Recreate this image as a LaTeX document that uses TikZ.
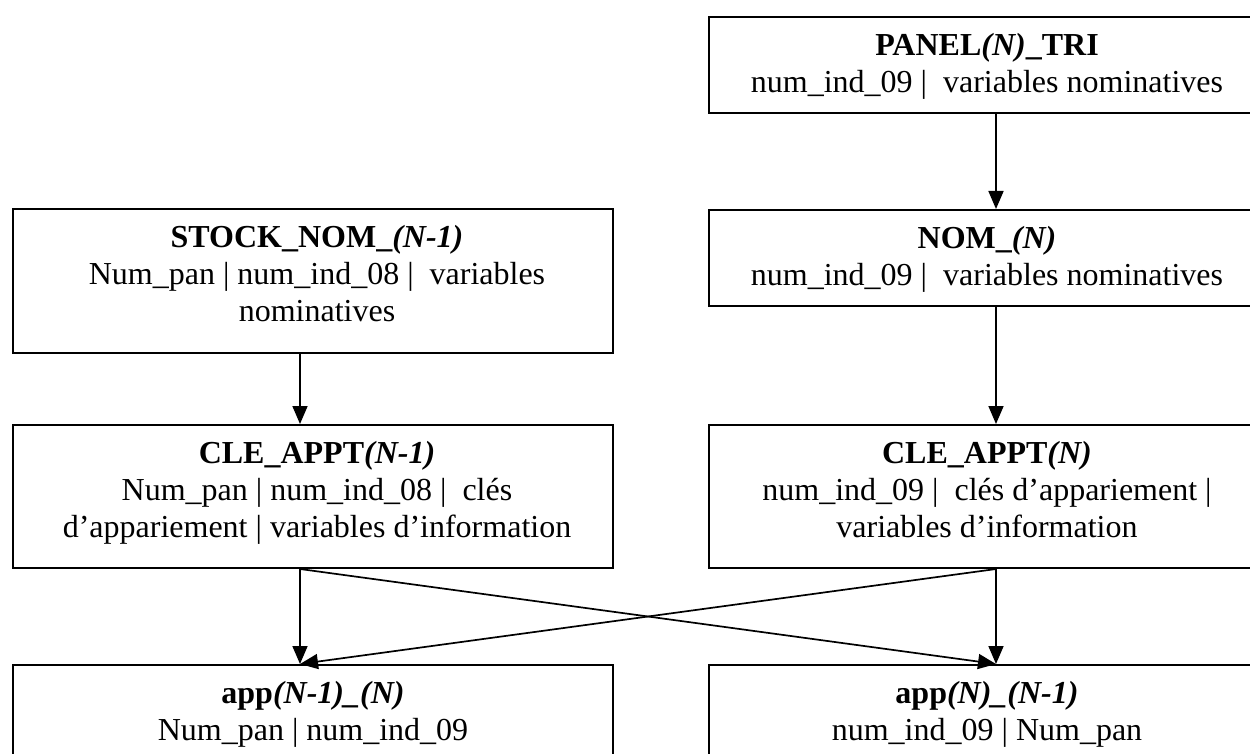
\documentclass[tikz,border=0pt]{standalone}
\usepackage{fontspec}
\setmainfont{Liberation Serif}
\usetikzlibrary{arrows.meta,calc}
\begin{document}
\begin{tikzpicture}[x=1pt,y=-1pt,
  box/.style={draw=black,line width=2pt,rectangle,inner sep=0pt,anchor=north west},
  txt/.style={anchor=north,inner sep=0pt,align=center,font=\fontsize{32}{37}\selectfont},
  conn/.style={draw=black,line width=1.7pt,-{Triangle[length=18pt,width=15pt]}}]
\clip (0,0) rectangle (1250,754);
\fill[white] (0,0) rectangle (1250,754);
% boxes
\node[box,minimum width=556pt,minimum height=96pt] (panel) at (708,16) {};
\node[box,minimum width=600pt,minimum height=144pt] (stock) at (12,208) {};
\node[box,minimum width=556pt,minimum height=96pt] (nom) at (708,209) {};
\node[box,minimum width=600pt,minimum height=143pt] (clel) at (12,424) {};
\node[box,minimum width=556pt,minimum height=143pt] (cler) at (708,424) {};
\node[box,minimum width=600pt,minimum height=120pt] (appl) at (12,664) {};
\node[box,minimum width=556pt,minimum height=120pt] (appr) at (708,664) {};
% texts
\node[txt] (tpanel) at ($(panel.north)+(0,13)$) {\strut\textbf{PANEL\textit{(N)}\_TRI}\\\strut num\_ind\_09 |~ variables nominatives};
\node[txt] (tstock) at ($(stock.north)+(4,13)$) {\strut\textbf{STOCK\_NOM\_\textit{(N-1)}}\\\strut Num\_pan | num\_ind\_08 |~ variables\\\strut nominatives};
\node[txt] (tnom) at ($(nom.north)+(0,13)$) {\strut\textbf{NOM\_\textit{(N)}}\\\strut num\_ind\_09 |~ variables nominatives};
\node[txt] (tclel) at ($(clel.north)+(4,13)$) {\strut\textbf{CLE\_APPT\textit{(N-1)}}\\\strut Num\_pan | num\_ind\_08 |~ clés\\\strut d’appariement | variables d’information};
\node[txt] (tcler) at ($(cler.north)+(0,13)$) {\strut\textbf{CLE\_APPT\textit{(N)}}\\\strut num\_ind\_09 |~ clés d’appariement |\\\strut variables d’information};
\node[txt] (tappl) at ($(appl.north)+(0,13)$) {\strut\textbf{app\textit{(N-1)\_(N)}}\\\strut Num\_pan | num\_ind\_09};
\node[txt] (tappr) at ($(appr.north)+(0,13)$) {\strut\textbf{app\textit{(N)\_(N-1)}}\\\strut num\_ind\_09 | Num\_pan};
% connector columns
\coordinate (cL) at (300,0);
\coordinate (cR) at (996,0);
\draw[conn] (panel.south -| cR) -- (nom.north -| cR);
\draw[conn] (stock.south -| cL) -- (clel.north -| cL);
\draw[conn] (nom.south -| cR) -- (cler.north -| cR);
\draw[conn] (clel.south -| cL) -- (appl.north -| cL);
\draw[conn] (cler.south -| cR) -- (appr.north -| cR);
\draw[conn] (clel.south -| cL) -- (appr.north -| cR);
\draw[conn] (cler.south -| cR) -- (appl.north -| cL);
\end{tikzpicture}
\end{document}
